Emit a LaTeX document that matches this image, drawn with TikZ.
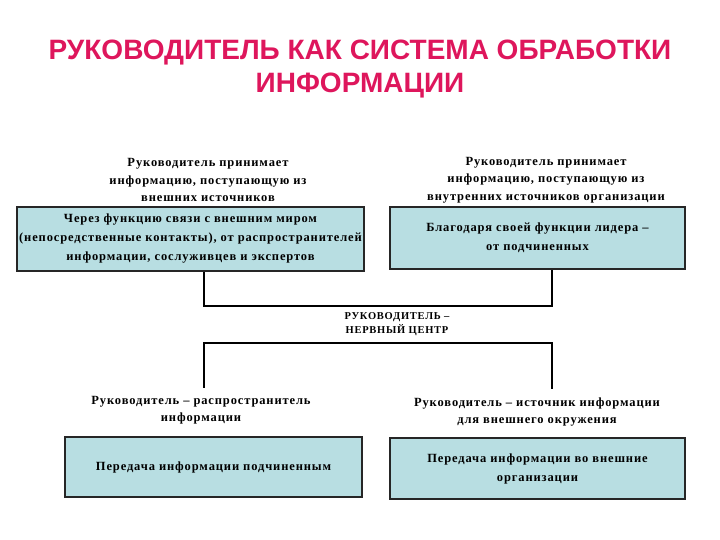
\documentclass[tikz,border=0pt]{standalone}
\usepackage{fontspec}
\setmainfont{Liberation Serif}[LetterSpace=7]
\newfontfamily\titlefont{Liberation Sans}
\usetikzlibrary{positioning}
\definecolor{titlepink}{RGB}{222,22,92}
\definecolor{boxblue}{RGB}{184,222,226}

\begin{document}
\begin{tikzpicture}[
    x=1pt, y=-1pt,
    infobox/.style={rectangle, draw=black!85, line width=1.1pt, fill=boxblue, align=center, font=\bfseries\fontsize{12.5}{19}\selectfont, inner sep=0pt},
    caption/.style={align=center, font=\bfseries\fontsize{12.5}{17.5}\selectfont, inner sep=0pt},
    link/.style={line width=1.1pt, black}
]
\useasboundingbox (0,0) rectangle (720,540);

% Title
\node[font=\titlefont\bfseries\fontsize{28}{33}\selectfont, text=titlepink, align=center] (title) at (360,69)
    {РУКОВОДИТЕЛЬ КАК СИСТЕМА ОБРАБОТКИ\\ИНФОРМАЦИИ};

% Incoming information
\node[caption] (lblExt) at (208,180) {Руководитель принимает\\информацию, поступающую из\\внешних источников};
\node[caption] (lblInt) at (546,180) {Руководитель принимает\\информацию, поступающую из\\внутренних источников организации};

\node[infobox, minimum width=347pt, minimum height=64pt] (boxExt) at (190.5,239)
    {Через функцию связи с внешним миром\\(непосредственные контакты), от распространителей\\информации, сослуживцев и экспертов};
\node[infobox, minimum width=295pt, minimum height=62pt] (boxInt) at (537.5,238)
    {Благодаря своей функции лидера --\\от подчиненных};

% Nerve centre
\node[align=center, font=\bfseries\fontsize{10.5}{14}\selectfont, inner sep=0pt] (hub) at (397,324)
    {РУКОВОДИТЕЛЬ --\\НЕРВНЫЙ ЦЕНТР};
\coordinate (topBar) at (204,306);
\coordinate (topBarR) at (552,306);
\coordinate (botBar) at (204,343);
\coordinate (botBarR) at (552,343);

\draw[link] (boxExt.south -| topBar) -- (topBar) -- (topBarR) -- (boxInt.south -| topBarR);

% Outgoing information
\node[caption] (lblDiss) at (201,410) {Руководитель -- распространитель\\информации};
\node[caption] (lblSrc) at (537,412) {Руководитель -- источник информации\\для внешнего окружения};

\node[infobox, minimum width=297pt, minimum height=60pt] (boxDiss) at (213.5,467)
    {Передача информации подчиненным};
\node[infobox, minimum width=295pt, minimum height=61pt] (boxSrc) at (537.5,468.5)
    {Передача информации во внешние\\организации};

\draw[link] ([yshift=8pt]lblDiss.north -| botBar) -- (botBar) -- (botBarR) -- ([yshift=8pt]lblSrc.north -| botBarR);

\end{tikzpicture}
\end{document}
